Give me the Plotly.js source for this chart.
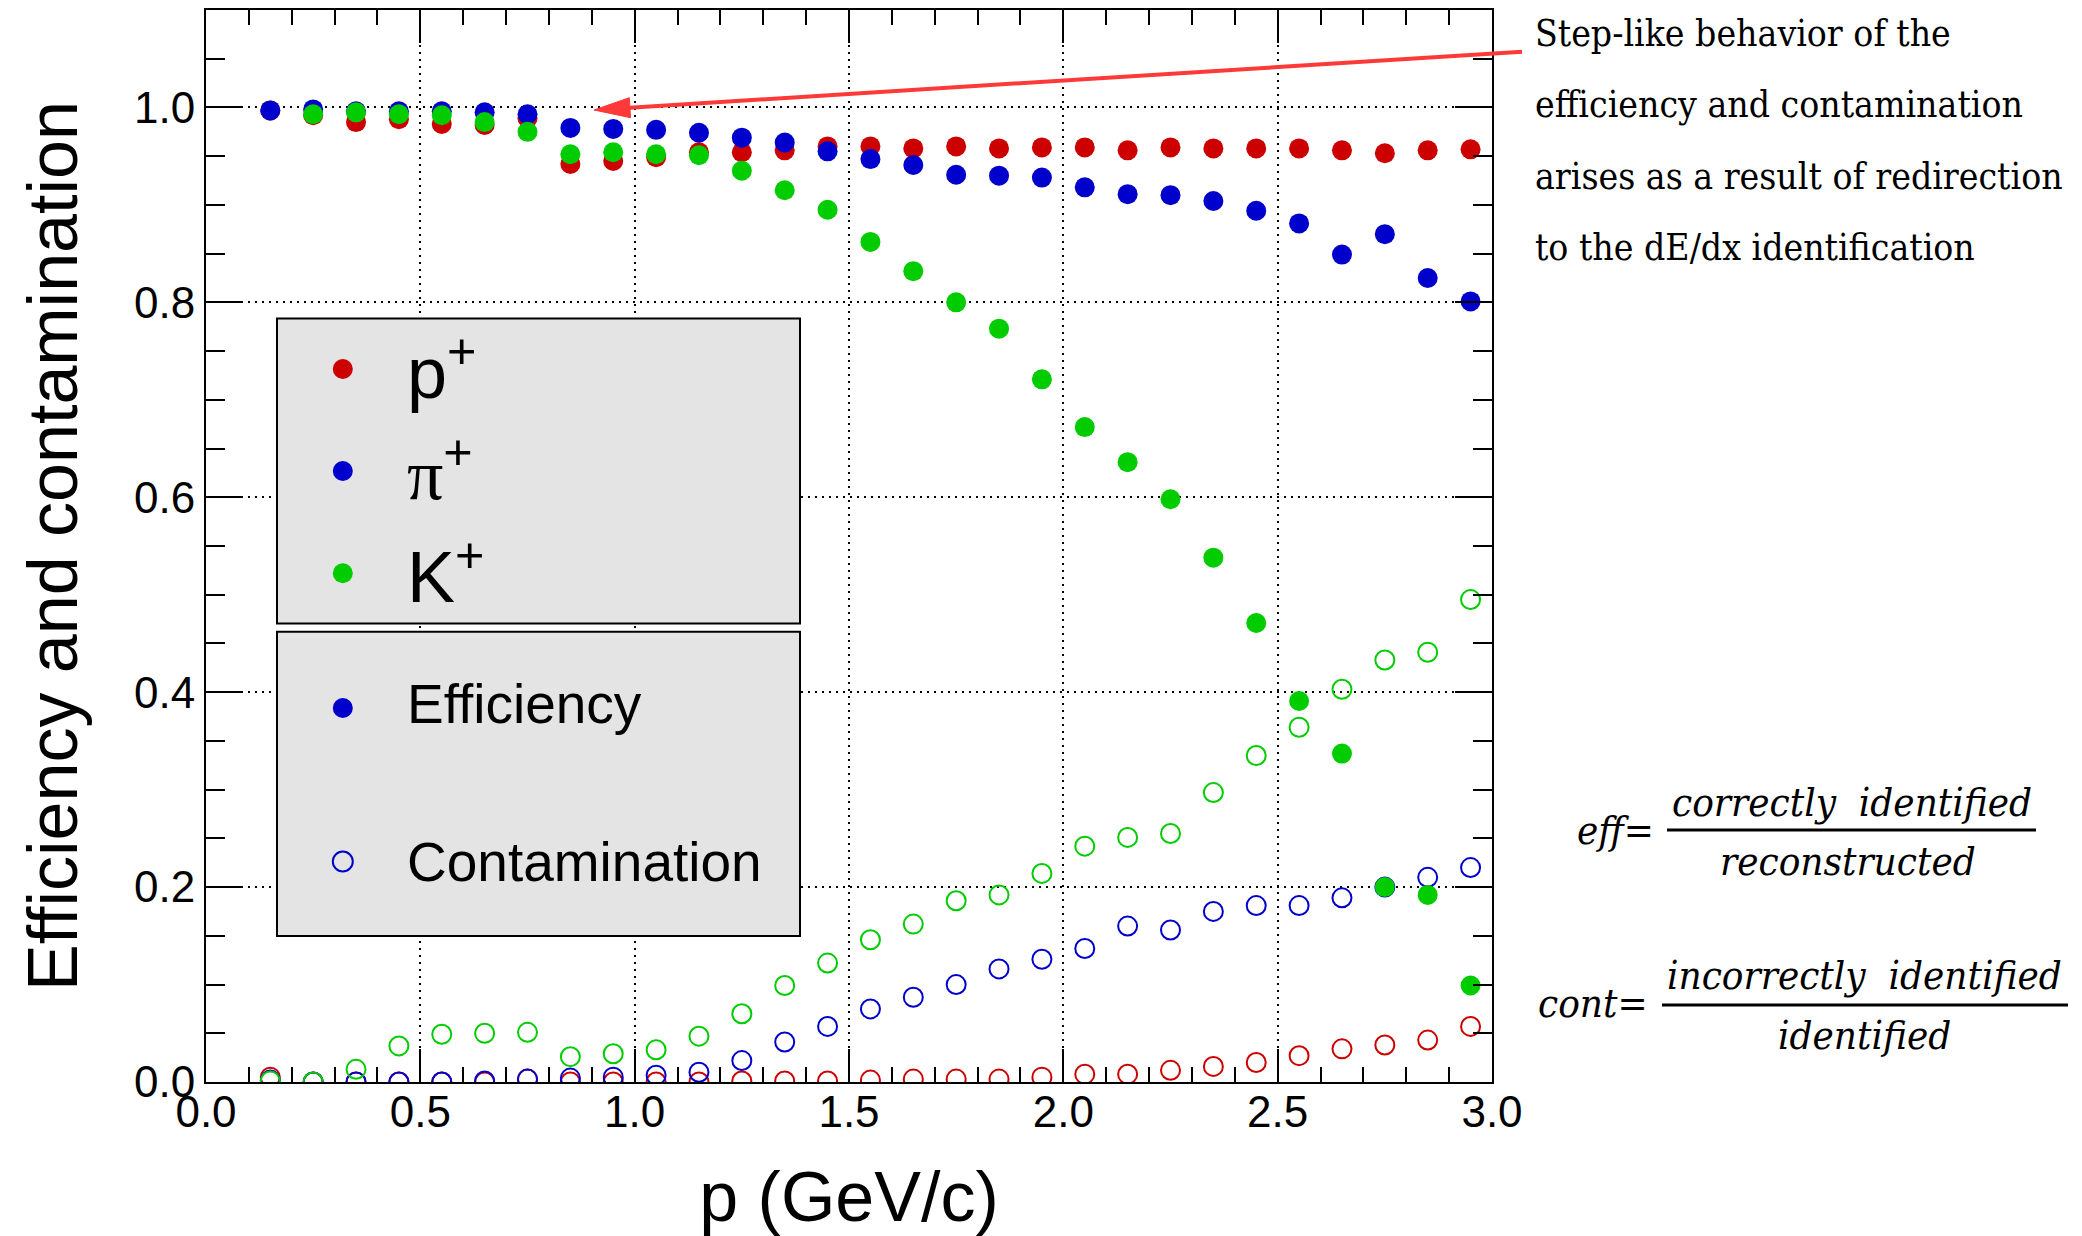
<!DOCTYPE html>
<html>
<head>
<meta charset="utf-8">
<script src="https://cdn.plot.ly/plotly-3.0.1.min.js"></script>
<style>html,body{margin:0;padding:0;background:#fff;}#chart{width:2082px;height:1236px;}</style>
</head>
<body>
<div id="chart"></div>
<script>
// Momentum bin centres (GeV/c)
const momentum = [0.15,0.25,0.35,0.45,0.55,0.65,0.75,0.85,0.95,1.05,1.15,1.25,1.35,1.45,1.55,
                  1.65,1.75,1.85,1.95,2.05,2.15,2.25,2.35,2.45,2.55,2.65,2.75,2.85,2.95];

// Efficiency
const protonEff = [0.997,0.992,0.985,0.988,0.983,0.982,0.989,0.942,0.945,0.949,0.954,0.954,0.956,0.960,0.960,
                   0.958,0.960,0.958,0.959,0.959,0.956,0.959,0.958,0.958,0.958,0.956,0.953,0.956,0.957];
const pionEff   = [0.997,0.998,0.996,0.996,0.996,0.995,0.993,0.979,0.978,0.977,0.974,0.969,0.964,0.955,0.947,
                   0.941,0.931,0.930,0.928,0.918,0.911,0.910,0.904,0.894,0.881,0.849,0.870,0.825,0.801];
const kaonEff   = [null,0.993,0.995,0.993,0.992,0.985,0.975,0.952,0.954,0.952,0.951,0.935,0.915,0.895,0.862,
                   0.832,0.800,0.773,0.721,0.672,0.636,0.598,0.538,0.471,0.391,0.337,0.200,0.192,0.099];

// Contamination
const protonCont = [0.005,0.000,0.000,0.000,0.000,0.000,0.003,0.000,0.000,0.000,0.000,0.001,0.001,0.001,0.002,
                    0.003,0.003,0.003,0.005,0.008,0.008,0.012,0.016,0.020,0.027,0.034,0.038,0.043,0.057];
const pionCont   = [0.002,0.000,0.000,0.000,0.000,0.001,0.003,0.004,0.005,0.007,0.010,0.022,0.041,0.057,0.075,
                    0.087,0.100,0.116,0.126,0.137,0.160,0.156,0.175,0.181,0.181,0.189,0.200,0.210,0.220];
const kaonCont   = [0.001,0.000,0.013,0.037,0.049,0.050,0.051,0.026,0.029,0.033,0.047,0.070,0.099,0.122,0.146,
                    0.162,0.186,0.192,0.214,0.242,0.251,0.255,0.297,0.335,0.364,0.403,0.433,0.441,0.495];

const speciesNames = ['p<sup>+</sup>', '<span style="font-family:\'Liberation Serif\',serif;">π</span><sup>+</sup>', 'K<sup>+</sup>'];
const typeNames = ['Efficiency', 'Contamination'];
const axisTitles = {x: 'p (GeV/c)', y: 'Efficiency and contamination'};
const noteLines = ['Step-like behavior of the', 'efficiency and contamination',
                   'arises as a result of redirection', 'to the dE/dx identification'];
const formulaTexts = {effLhs: 'eff=', effNum: 'correctly\u00a0 identified', effDen: 'reconstructed',
                      contLhs: 'cont=', contNum: 'incorrectly\u00a0 identified', contDen: 'identified'};

const RED = '#cc0000', BLUE = '#0000cc', GREEN = '#00cc00';
const SANS = 'Liberation Sans, Arial, Helvetica, sans-serif';
const SERIF = 'DejaVu Serif Condensed, Liberation Serif, serif';

function openTrace(y, c, n) {
  return {x: momentum, y: y, type: 'scatter', mode: 'markers', name: n, showlegend: false,
          marker: {symbol: 'circle-open', size: 19, color: c, line: {color: c, width: 2}}};
}
function fullTrace(y, c, n) {
  return {x: momentum, y: y, type: 'scatter', mode: 'markers', name: n, showlegend: false,
          marker: {symbol: 'circle', size: 20, color: c, line: {width: 0}}};
}
const traces = [
  openTrace(protonCont, RED, 'p+ contamination'),
  openTrace(pionCont, BLUE, 'pi+ contamination'),
  openTrace(kaonCont, GREEN, 'K+ contamination'),
  fullTrace(protonEff, RED, 'p+ efficiency'),
  fullTrace(pionEff, BLUE, 'pi+ efficiency'),
  fullTrace(kaonEff, GREEN, 'K+ efficiency')
];

// Helpers: pixel -> paper
const L = 206, R = 1492, T = 10, B = 1082;
const px = v => (v - L) / (R - L);
const py = v => (B - v) / (B - T);

const shapes = [
  // legend boxes
  {type: 'rect', xref: 'paper', yref: 'paper', x0: px(277), x1: px(800), y0: py(623.5), y1: py(318.5),
   fillcolor: '#e4e4e4', line: {color: '#000', width: 2}, layer: 'above'},
  {type: 'rect', xref: 'paper', yref: 'paper', x0: px(277), x1: px(800), y0: py(936), y1: py(631.7),
   fillcolor: '#e4e4e4', line: {color: '#000', width: 2}, layer: 'above'},
  // arrow
  {type: 'line', xref: 'paper', yref: 'paper', x0: px(629.9), y0: py(107.7), x1: px(1522), y1: py(51.7),
   line: {color: '#ff3838', width: 4}, layer: 'above'},
  {type: 'path', xref: 'paper', yref: 'paper',
   path: 'M ' + px(594) + ',' + py(110) + ' L ' + px(630.5) + ',' + py(117.7) + ' L ' + px(629.3) + ',' + py(97.7) + ' Z',
   fillcolor: '#ff3838', line: {color: '#ff3838', width: 1}, layer: 'above'},
  // fraction bars
  {type: 'line', xref: 'paper', yref: 'paper', x0: px(1667), x1: px(2036), y0: py(830), y1: py(830),
   line: {color: '#000', width: 3}},
  {type: 'line', xref: 'paper', yref: 'paper', x0: px(1662), x1: px(2068), y0: py(1005), y1: py(1005),
   line: {color: '#000', width: 3}}
];

// legend markers
const legendMarkers = [
  {y: 369, c: RED, open: false}, {y: 471, c: BLUE, open: false}, {y: 573.3, c: GREEN, open: false},
  {y: 708, c: BLUE, open: false}, {y: 861.5, c: BLUE, open: true}
];
legendMarkers.forEach(m => {
  shapes.push({type: 'circle', xref: 'paper', yref: 'paper', xsizemode: 'pixel', ysizemode: 'pixel',
    xanchor: px(342.8), yanchor: py(m.y), x0: -10, x1: 10, y0: -10, y1: 10,
    fillcolor: m.open ? 'rgba(0,0,0,0)' : m.c, line: {color: m.c, width: m.open ? 2 : 0}, layer: 'above'});
});

const annotations = [];
const legY = [367, 469, 571];
speciesNames.forEach((s, i) => annotations.push({xref: 'paper', yref: 'paper', x: px(405), y: py(legY[i]),
  xanchor: 'left', yanchor: 'middle', showarrow: false, text: s, font: {family: SANS, size: 72, color: '#000'}}));
const typeY = [703.6, 862];
typeNames.forEach((s, i) => annotations.push({xref: 'paper', yref: 'paper', x: px(405), y: py(typeY[i]),
  xanchor: 'left', yanchor: 'middle', showarrow: false, text: s, font: {family: SANS, size: 55, color: '#000'}}));

const noteY = [33.7, 104.3, 176.3, 247.7];
noteLines.forEach((s, i) => annotations.push({xref: 'paper', yref: 'paper', x: px(1533), y: py(noteY[i]),
  xanchor: 'left', yanchor: 'middle', showarrow: false, text: s, font: {family: SERIF, size: 37, color: '#000'}}));

function fi() { return {family: SERIF, size: 40, color: '#000', style: 'italic'}; }
function formula(x, y, anchor, text) {
  return {xref: 'paper', yref: 'paper', x: px(x), y: py(y), xanchor: anchor, yanchor: 'middle',
          showarrow: false, text: text, font: fi()};
}
annotations.push(
  formula(1656, 829.6, 'right', formulaTexts.effLhs),
  formula(1851.5, 802.3, 'center', formulaTexts.effNum),
  formula(1848, 861.3, 'center', formulaTexts.effDen),
  formula(1650, 1002.9, 'right', formulaTexts.contLhs),
  formula(1864, 975.3, 'center', formulaTexts.contNum),
  formula(1864.6, 1034.6, 'center', formulaTexts.contDen)
);

function axisCommon() {
  return {
    ticks: 'inside', tickwidth: 2, tickcolor: '#000', showline: true, linewidth: 2, linecolor: '#000',
    mirror: 'allticks', showgrid: true, gridcolor: '#000', gridwidth: 2, griddash: '2px,5px', zeroline: false,
    tickformat: '.1f', tickfont: {family: SANS, size: 44, color: '#000'}
  };
}

const layout = {
  width: 2082, height: 1236,
  margin: {l: L, r: 2082 - R, t: T, b: 1236 - B, pad: 0},
  paper_bgcolor: '#fff', plot_bgcolor: '#fff',
  showlegend: false,
  xaxis: Object.assign(axisCommon(), {
    range: [0, 3], tick0: 0, dtick: 0.5, ticklen: 33, ticklabelstandoff: -10,
    minor: {tick0: 0, dtick: 0.1, ticks: 'inside', ticklen: 15, tickwidth: 2, tickcolor: '#000', showgrid: false},
    title: {text: axisTitles.x, font: {family: SANS, size: 70, color: '#000'}, standoff: 38}
  }),
  yaxis: Object.assign(axisCommon(), {
    range: [0, 1.1], tick0: 0, dtick: 0.2, ticklen: 37, ticklabelstandoff: 0,
    minor: {tick0: 0, dtick: 0.05, ticks: 'inside', ticklen: 19, tickwidth: 2, tickcolor: '#000', showgrid: false},
    title: {text: axisTitles.y, font: {family: SANS, size: 70, color: '#000'}, standoff: 34}
  }),
  shapes: shapes,
  annotations: annotations
};

Plotly.newPlot('chart', traces, layout, {staticPlot: true, displayModeBar: false});
</script>
</body>
</html>
